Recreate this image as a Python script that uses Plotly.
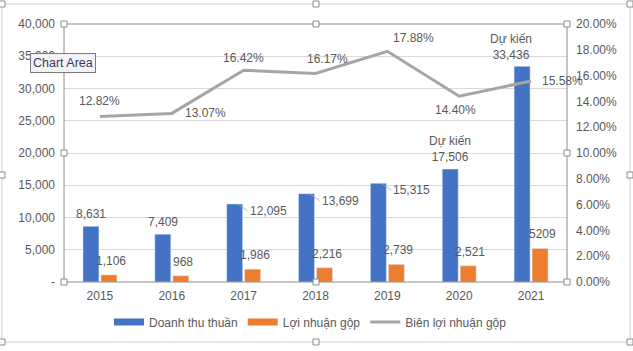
import plotly.graph_objects as go

years = ["2015", "2016", "2017", "2018", "2019", "2020", "2021"]
revenue = [8631, 7409, 12095, 13699, 15315, 17506, 33436]
gross_profit = [1106, 968, 1986, 2216, 2739, 2521, 5209]
margin = [0.1282, 0.1307, 0.1642, 0.1617, 0.1788, 0.1440, 0.1558]
revenue_labels = ["8,631", "7,409", "12,095", "13,699", "15,315", "Dự kiến<br>17,506", "Dự kiến<br>33,436"]
profit_labels = ["1,106", "968", "1,986", "2,216", "2,739", "2,521", "5209"]
margin_labels = ["12.82%", "13.07%", "16.42%", "16.17%", "17.88%", "14.40%", "15.58%"]
left_ticks = [0, 5000, 10000, 15000, 20000, 25000, 30000, 35000, 40000]
left_ticktext = ["-", "5,000", "10,000", "15,000", "20,000", "25,000", "30,000", "35,000", "40,000"]
right_ticks = [0, 0.02, 0.04, 0.06, 0.08, 0.10, 0.12, 0.14, 0.16, 0.18, 0.20]

W, H = 633, 351
L, R, T, B = 64, 567, 24, 282
FONT = "Liberation Sans"
TXT = "#595959"
BLUE, ORANGE, GRAY = "#4472C4", "#ED7D31", "#A5A5A5"


def px(x):
    return (x - L) / (R - L)


def py(y):
    return (B - y) / (B - T)


fig = go.Figure()
fig.add_trace(go.Bar(x=years, y=revenue, name="Doanh thu thuần", marker_color=BLUE, showlegend=False))
fig.add_trace(go.Bar(x=years, y=gross_profit, name="Lợi nhuận gộp", marker_color=ORANGE, showlegend=False))
fig.add_trace(go.Scatter(x=years, y=margin, name="Biên lợi nhuận gộp", yaxis="y2",
                         mode="lines", line=dict(color=GRAY, width=3), showlegend=False))
# legend entries (wide bar-like swatches as in the reference)
fig.add_trace(go.Scatter(x=[None], y=[None], name="Doanh thu thuần", mode="lines",
                         line=dict(color=BLUE, width=7)))
fig.add_trace(go.Scatter(x=[None], y=[None], name="Lợi nhuận gộp", mode="lines",
                         line=dict(color=ORANGE, width=7)))
fig.add_trace(go.Scatter(x=[None], y=[None], name="Biên lợi nhuận gộp", mode="lines",
                         line=dict(color=GRAY, width=3)))

ann = []
lf = dict(family=FONT, size=12, color=TXT)
# revenue labels (x given as category index)
for i, (v, t) in enumerate(zip(revenue, revenue_labels)):
    if i in (2, 3, 4):
        ann.append(dict(x=i, y=v, xref="x", yref="y", text=t, showarrow=True, arrowhead=0,
                        arrowwidth=0.8, arrowcolor="#a6a6a6", ax=10, ay=7, xshift=-6, standoff=0,
                        xanchor="left", yanchor="middle", font=lf))
    elif i == 6:
        ann.append(dict(x=i, y=v, xref="x", yref="y", text=t, showarrow=False, xshift=-20,
                        yshift=2, yanchor="bottom", font=lf))
    else:
        ann.append(dict(x=i, y=v, xref="x", yref="y", text=t, showarrow=False, xshift=-9,
                        yshift=3, yanchor="bottom", font=lf))
# profit labels
for i, (v, t) in enumerate(zip(gross_profit, profit_labels)):
    ann.append(dict(x=i, y=v, xref="x", yref="y", text=t, showarrow=False, xshift=11,
                    yshift=5, yanchor="bottom", font=lf))
# margin labels (pixel offsets)
m_off = [(0, -16), (34, 0), (0, -12), (12, -14), (26, -13), (-4, 14), (31, 0)]
for i, (v, t, (dx, dy)) in enumerate(zip(margin, margin_labels, m_off)):
    ann.append(dict(x=i, y=v, xref="x", yref="y2", text=t, showarrow=False,
                    xshift=dx, yshift=-dy, font=lf))
# "Chart Area" tooltip
ann.append(dict(x=px(30), y=py(62.5), xref="paper", yref="paper", text="Chart Area",
                showarrow=False, xanchor="left", yanchor="middle",
                font=dict(family=FONT, size=12.5, color="#3b3b5b"),
                bgcolor="#f3f3f7", bordercolor="#7a7a7a", borderwidth=1, borderpad=2))

shapes = []
# outer chart border
shapes.append(dict(type="rect", xref="paper", yref="paper", x0=px(2), x1=px(630), y0=py(342), y1=py(4),
                   line=dict(color="#d0d0d0", width=1)))
# plot area border
shapes.append(dict(type="rect", xref="paper", yref="paper", x0=0, x1=1, y0=0, y1=1,
                   line=dict(color="#8c8c8c", width=1), layer="above"))
# selection handles
handles = [(L, T), (316, T), (R, T), (L, 153), (R, 153), (L, B), (316, B), (R, B),
           (2, 175), (630, 175), (316, 4), (630, 4), (316, 342), (630, 342), (2, 4), (2, 342)]
for hx, hy in handles:
    shapes.append(dict(type="rect", xref="paper", yref="paper", x0=px(hx - 3), x1=px(hx + 3),
                       y0=py(hy + 3), y1=py(hy - 3), fillcolor="white",
                       line=dict(color="#8c8c8c", width=1), layer="above"))

fig.update_layout(
    width=W, height=H,
    margin=dict(l=L, r=W - R, t=T, b=H - B),
    paper_bgcolor="white", plot_bgcolor="white",
    barmode="group", bargap=0.5, bargroupgap=0.11,
    font=dict(family=FONT, size=12, color=TXT),
    xaxis=dict(type="category", range=[-0.5, 6.5], showgrid=False, ticks="",
               tickfont=dict(size=12, color=TXT), showline=False, ticklabelstandoff=5),
    yaxis=dict(range=[0, 40000], tickvals=left_ticks, ticktext=left_ticktext,
               gridcolor="#d9d9d9", gridwidth=1, zeroline=False, tickfont=dict(size=12, color=TXT),
               ticks="", ticklabelstandoff=8),
    yaxis2=dict(range=[0, 0.2], tickvals=right_ticks, tickformat=".2%", overlaying="y",
                side="right", showgrid=False, zeroline=False, tickfont=dict(size=12, color=TXT),
                ticks="", ticklabelstandoff=8),
    legend=dict(orientation="h", x=0.49, xanchor="center", y=py(322), yanchor="middle",
                font=dict(size=12, color=TXT), itemwidth=30, traceorder="normal"),
    annotations=ann, shapes=shapes,
)

fig.write_html("out.html")
